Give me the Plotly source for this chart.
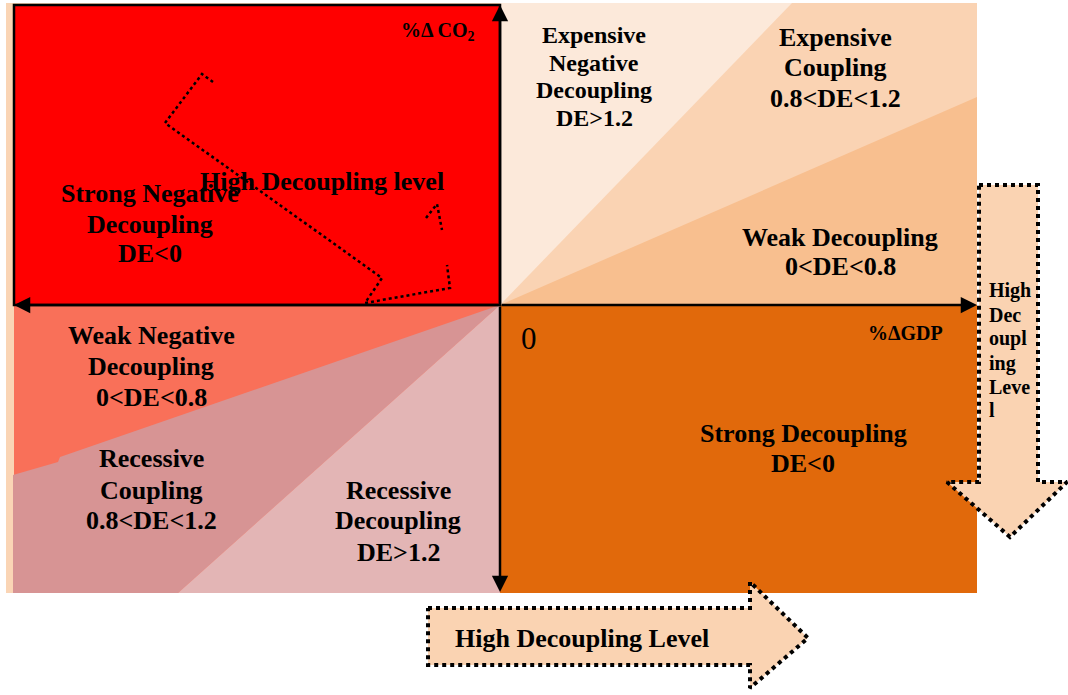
import plotly.graph_objects as go

# ---------------------------------------------------------------
# Decoupling-elasticity (DE) diagram.
# Coordinate system: origin at the axes crossing (%ΔGDP = 0, %ΔCO2 = 0)
# ---------------------------------------------------------------
X_RANGE = [-500, 568]
Y_RANGE = [-390, 305]

# Panel extents
PANEL_LEFT, PANEL_RIGHT = -486, 477
PANEL_TOP, PANEL_BOTTOM = 300, -288
STRIP_LEFT, STRIP_TOP = -494, 302

# Boundary end-points of the DE threshold rays
DE12_TOP_X = 292        # DE = 1.2 ray in quadrant I hits the top edge here
DE08_RIGHT_Y = 208      # DE = 0.8 ray in quadrant I hits the right edge here
DE08_KINK = [(-440, -152), (-442, -157)]  # small step on the quadrant III DE = 0.8 ray
DE08_LEFT_Y = -170      # DE = 0.8 ray in quadrant III hits the left edge here
DE12_BOTTOM_X = -322    # DE = 1.2 ray in quadrant III hits the bottom edge here

# Region polygons
region_names = [
    "Background", "Strong Negative Decoupling", "Expensive Coupling",
    "Expensive Negative Decoupling", "Weak Decoupling", "Strong Decoupling",
    "Weak Negative Decoupling", "Recessive Coupling", "Recessive Decoupling",
]
region_x = [
    [STRIP_LEFT, PANEL_RIGHT, PANEL_RIGHT, STRIP_LEFT],
    [PANEL_LEFT, 0, 0, PANEL_LEFT],
    [0, PANEL_RIGHT, PANEL_RIGHT, 0],
    [0, 0, DE12_TOP_X],
    [0, PANEL_RIGHT, PANEL_RIGHT],
    [0, PANEL_RIGHT, PANEL_RIGHT, 0],
    [PANEL_LEFT, 0, 0, PANEL_LEFT],
    [0, DE08_KINK[0][0], DE08_KINK[1][0], PANEL_LEFT - 1, PANEL_LEFT - 1, DE12_BOTTOM_X],
    [0, DE12_BOTTOM_X, 0],
]
region_y = [
    [PANEL_BOTTOM, PANEL_BOTTOM, STRIP_TOP, STRIP_TOP],
    [0, 0, PANEL_TOP, PANEL_TOP],
    [0, 0, STRIP_TOP, STRIP_TOP],
    [0, STRIP_TOP, STRIP_TOP],
    [0, DE08_RIGHT_Y, 0],
    [0, 0, PANEL_BOTTOM, PANEL_BOTTOM],
    [PANEL_BOTTOM, PANEL_BOTTOM, 0, 0],
    [0, DE08_KINK[0][1], DE08_KINK[1][1], DE08_LEFT_Y, PANEL_BOTTOM, PANEL_BOTTOM],
    [0, PANEL_BOTTOM, PANEL_BOTTOM],
]
region_colors = [
    "#FAD5B5", "#FF0000", "#FAD3B3", "#FCE9DA", "#F8BF8F",
    "#E1690B", "#F97059", "#D79494", "#E3B5B5",
]

# Dotted "High Decoupling level" path in quadrant II
path1_x = [-287, -298, -335, -118, -135, -50, -53]
path1_y = [223, 231, 182, 27, 2, 17, 40]
path2_x = [-74, -63, -58]
path2_y = [87, 101, 75]

# Dotted block arrows
bottom_arrow_x = [-72, 250, 250, 308, 250, 250, -72, -72]
bottom_arrow_y = [-303, -303, -277, -333, -383, -360, -360, -303]
right_arrow_x = [479, 538, 538, 567, 510, 447, 479, 479]
right_arrow_y = [120, 120, -177, -177, -232, -177, -177, 120]

# Text labels (one entry per line)
label_lines = [
    "Strong Negative", "Decoupling", "DE<0",
    "High Decoupling level",
    "Expensive", "Negative", "Decoupling", "DE>1.2",
    "Expensive", "Coupling", "0.8<DE<1.2",
    "Weak Decoupling", "0<DE<0.8",
    "Strong Decoupling", "DE<0",
    "Weak Negative", "Decoupling", "0<DE<0.8",
    "Recessive", "Coupling", "0.8<DE<1.2",
    "Recessive", "Decoupling", "DE>1.2",
    "High Decoupling Level",
]
label_x = [-350, -350, -350, -178, 94, 94, 94, 94, 335, 335, 335, 340, 340,
           303, 303, -349, -349, -349, -349, -349, -349, -102, -102, -102, 82]
label_y = [112, 81, 52, 124, 270, 242, 215, 187, 268, 238, 207, 68, 39,
           -128, -158, -30, -61, -92, -153, -185, -215, -185, -215, -247, -333]
label_size = [26, 26, 26, 26, 24, 24, 24, 24, 26, 26, 26, 26, 26,
              26, 26, 26, 26, 26, 26, 26, 26, 26, 26, 26, 26]

side_lines = ["High", "Dec", "oupl", "ing", "Leve", "l"]
side_y = [15, -10, -33, -58, -82, -105]

FONT = "Liberation Serif, Times New Roman, serif"

fig = go.Figure()

for name, xs, ys, col in zip(region_names, region_x, region_y, region_colors):
    fig.add_trace(go.Scatter(
        x=xs, y=ys, fill="toself", fillcolor=col, mode="lines",
        line=dict(width=0, color=col), name=name, hoverinfo="skip"))

# Red quadrant border
fig.add_shape(type="rect", x0=PANEL_LEFT, x1=0, y0=0, y1=PANEL_TOP,
              line=dict(color="black", width=2.5))

# Dotted path inside the red quadrant
for xs, ys in [(path1_x, path1_y), (path2_x, path2_y)]:
    fig.add_trace(go.Scatter(x=xs, y=ys, mode="lines",
                             line=dict(color="black", width=2.5, dash="dot"),
                             hoverinfo="skip"))

# Dotted block arrows
for xs, ys in [(bottom_arrow_x, bottom_arrow_y), (right_arrow_x, right_arrow_y)]:
    fig.add_trace(go.Scatter(x=xs, y=ys, fill="toself", fillcolor="#FAD3B2",
                             mode="lines",
                             line=dict(color="black", width=4, dash="dot"),
                             hoverinfo="skip"))

# Axes with arrowheads
for tip in [(PANEL_RIGHT, 0), (PANEL_LEFT, 0), (0, PANEL_TOP), (0, PANEL_BOTTOM + 1)]:
    fig.add_annotation(x=tip[0], y=tip[1], ax=0, ay=0, axref="x", ayref="y",
                       xref="x", yref="y", showarrow=True, arrowhead=2,
                       arrowsize=1.3, arrowwidth=2.5, arrowcolor="black", text="")

for t, x, y, s in zip(label_lines, label_x, label_y, label_size):
    fig.add_annotation(x=x, y=y, text="<b>" + t + "</b>", showarrow=False,
                       xanchor="center", yanchor="middle",
                       font=dict(family=FONT, size=s, color="black"))

for t, y in zip(side_lines, side_y):
    fig.add_annotation(x=487, y=y, text="<b>" + t + "</b>", showarrow=False,
                       xanchor="left", yanchor="middle",
                       font=dict(family=FONT, size=20, color="black"))

# Axis titles and origin
fig.add_annotation(x=-63, y=274, text="<b>%Δ CO<sub>2</sub></b>", showarrow=False,
                   font=dict(family=FONT, size=20, color="black"))
fig.add_annotation(x=405, y=-28, text="<b>%ΔGDP</b>", showarrow=False,
                   font=dict(family=FONT, size=20, color="black"))
fig.add_annotation(x=29, y=-33, text="0", showarrow=False,
                   font=dict(family=FONT, size=31, color="black"))

fig.update_layout(
    width=1068, height=695,
    margin=dict(l=0, r=0, t=0, b=0),
    paper_bgcolor="white", plot_bgcolor="white",
    showlegend=False,
    xaxis=dict(range=X_RANGE, visible=False, fixedrange=True),
    yaxis=dict(range=Y_RANGE, visible=False, fixedrange=True),
)

fig.write_html(
    "out.html",
    config={"displayModeBar": False},
    post_script="document.body.style.margin='0';document.body.style.overflow='hidden';",
)
